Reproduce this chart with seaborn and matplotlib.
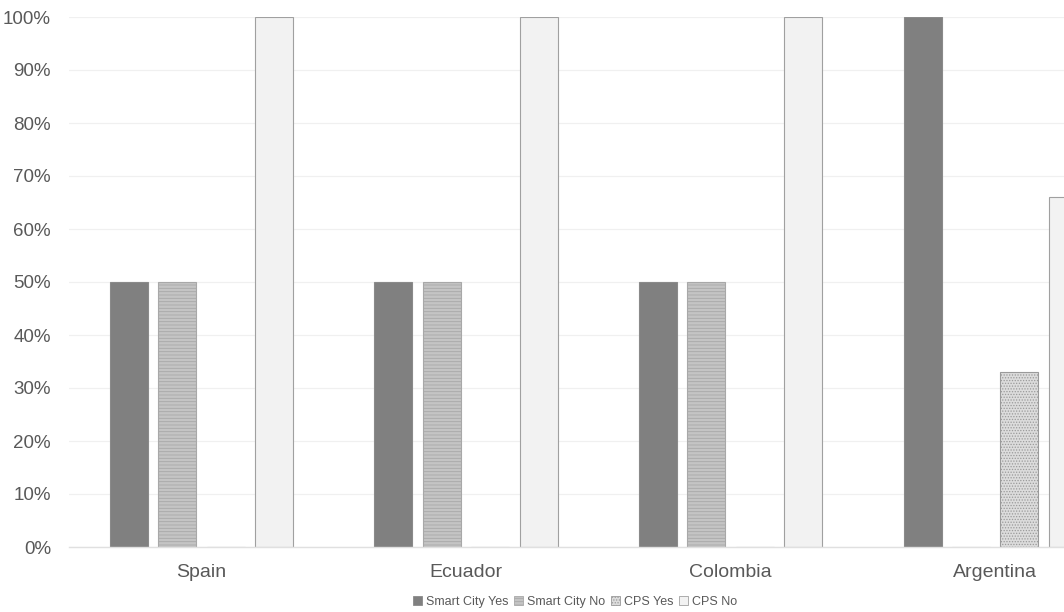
import matplotlib
matplotlib.use("Agg")
import matplotlib.pyplot as plt
import seaborn as sns
import pandas as pd
from matplotlib.patches import Patch

countries = ["Spain", "Ecuador", "Colombia", "Argentina"]
series = ["Smart City Yes", "Smart City No", "CPS Yes", "CPS No"]
smart_city_yes = [50, 50, 50, 100]
smart_city_no = [50, 50, 50, 0]
cps_yes = [0, 0, 0, 33]
cps_no = [100, 100, 100, 66]
y_ticks = list(range(0, 101, 10))
y_tick_labels = [f"{v}%" for v in y_ticks]

rows = []
for name, vals in zip(series, [smart_city_yes, smart_city_no, cps_yes, cps_no]):
    for c, v in zip(countries, vals):
        rows.append({"Country": c, "Series": name, "Value": v})
df = pd.DataFrame(rows)

sns.set_style("white")
plt.rcParams["font.family"] = ["Liberation Sans", "DejaVu Sans"]
plt.rcParams["hatch.linewidth"] = 0.6

faces = {"Smart City Yes": "#808080", "Smart City No": "#c4c4c4",
         "CPS Yes": "#dcdcdc", "CPS No": "#f2f2f2"}
edges = {"Smart City Yes": "#8a8a8a", "Smart City No": "#a8a8a8",
         "CPS Yes": "#9a9a9a", "CPS No": "#a0a0a0"}
hatches = {"Smart City Yes": None, "Smart City No": "-----",
           "CPS Yes": "......", "CPS No": None}

W, H = 1064, 612
fig = plt.figure(figsize=(W / 100, H / 100), dpi=100)
left, right, top, bottom = 69, 1127.5, 17, 547
ax = fig.add_axes([left / W, 1 - bottom / H, (right - left) / W, (bottom - top) / H])

sns.barplot(data=df, x="Country", y="Value", hue="Series", order=countries,
            hue_order=series, palette=faces, width=0.732, gap=0.216,
            ax=ax, legend=False, saturation=1)

for container, name in zip(ax.containers, series):
    for bar in container:
        bar.set_edgecolor(edges[name])
        bar.set_linewidth(0.8)
        if hatches[name]:
            bar.set_hatch(hatches[name])

ax.set_ylim(0, 100)
ax.set_xlim(-0.5, 3.5)
ax.set_yticks(y_ticks)
ax.set_yticklabels(y_tick_labels)
ax.grid(axis="y", color="#f0f0f0", linewidth=0.9)
ax.set_axisbelow(True)
for s in ["top", "right", "left"]:
    ax.spines[s].set_visible(False)
ax.spines["bottom"].set_color("#e0e0e0")
ax.spines["bottom"].set_linewidth(1)
ax.tick_params(axis="y", length=0, pad=13, labelsize=13.5, labelcolor="#595959")
ax.tick_params(axis="x", length=0, pad=12, labelsize=14, labelcolor="#595959")
ax.set_xlabel("")
ax.set_ylabel("")

handles = [Patch(facecolor=faces[n], edgecolor=edges[n], hatch=hatches[n], linewidth=0.6)
           for n in series]
fig.legend(handles, series, loc="center", bbox_to_anchor=(575 / W, 1 - 602 / H),
           ncol=4, frameon=False, fontsize=9, handlelength=0.7, handleheight=0.7,
           handletextpad=0.3, columnspacing=0.5, labelcolor="#595959")

fig.savefig("out.png", dpi=100)
